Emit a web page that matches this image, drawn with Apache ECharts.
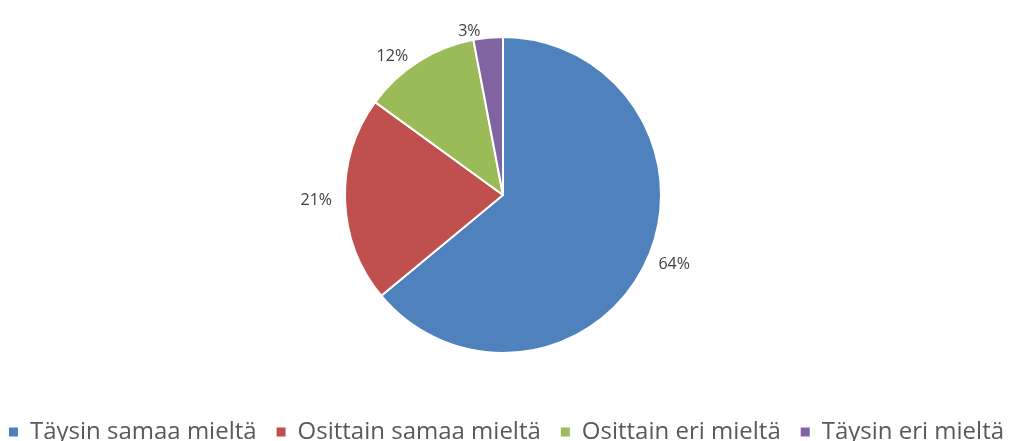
<!DOCTYPE html>
<html>
<head>
<meta charset="utf-8">
<script src="https://cdn.jsdelivr.net/npm/echarts@6/dist/echarts.min.js"></script>
<style>
  html, body { margin: 0; padding: 0; background: #fff; }
  #chart { width: 1011px; height: 441px; }
</style>
</head>
<body>
<div id="chart"></div>
<script>
// vastausvaihtoehdot ja osuudet (%)
const categories = ["Täysin samaa mieltä", "Osittain samaa mieltä", "Osittain eri mieltä", "Täysin eri mieltä"];
const values = [64, 21, 12, 3];
const colors = ["#4F81BD", "#C0504D", "#9BBB59", "#8064A2"];

const chart = echarts.init(document.getElementById("chart"));
chart.setOption({
  animation: false,
  color: colors,
  legend: {
    data: categories,
    left: "center",
    top: 414,
    icon: "rect",
    itemWidth: 11,
    itemHeight: 11,
    itemGap: 18,
    textStyle: {
      fontFamily: "Open Sans",
      fontSize: 24,
      lineHeight: 26,
      color: "#595959",
      padding: [0, 0, 0, 6]
    }
  },
  series: [
    {
      type: "pie",
      center: [503, 195],
      radius: 158,
      startAngle: 90,
      clockwise: true,
      itemStyle: { borderColor: "#fff", borderWidth: 2 },
      label: {
        show: true,
        position: "outside",
        formatter: "{c}%",
        fontFamily: "Open Sans",
        fontSize: 16,
        color: "#404040"
      },
      labelLine: { show: false, length: 6, length2: 2 },
      data: categories.map((name, i) => ({ name: name, value: values[i] }))
    }
  ]
});
</script>
</body>
</html>
